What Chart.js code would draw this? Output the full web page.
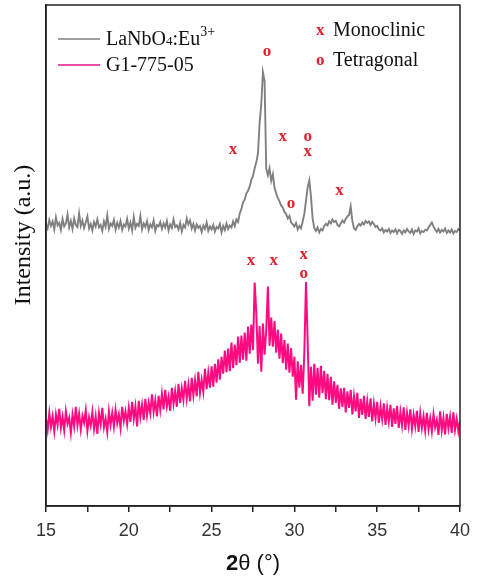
<!DOCTYPE html>
<html>
<head>
<meta charset="utf-8">
<script src="https://cdn.jsdelivr.net/npm/chart.js@4.4.1/dist/chart.umd.min.js"></script>
<style>
  body { margin: 0; background: #fff; }
  #box { width: 478px; height: 577px; }
</style>
</head>
<body>
<div id="box"><canvas id="xrd"></canvas></div>
<script>
// 2theta grid: 15.0 .. 40.0 in 0.1 steps
const thetaStart = 15;
const thetaStep = 0.1;

// LaNbO4:Eu3+ (gray, offset upward)
const lanbo = [
  56.2, 55.4, 57.1, 55.9, 56.8, 55.2, 57.6, 56.0, 56.5, 55.1,
  57.3, 55.8, 56.4, 58.2, 55.6, 56.9, 55.3, 57.4, 56.1, 55.7,
  58.4, 55.9, 57.0, 55.5, 56.6, 57.8, 55.4, 56.3, 55.0, 56.7,
  55.8, 57.2, 55.6, 56.1, 54.9, 56.8, 55.7, 58.0, 55.3, 56.4,
  55.9, 57.1, 55.2, 56.5, 55.6, 56.9, 55.1, 56.2, 55.8, 57.3,
  55.4, 56.6, 55.0, 57.7, 55.5, 56.3, 55.9, 57.9, 55.2, 56.4,
  55.7, 56.9, 55.1, 56.2, 55.6, 57.0, 54.9, 56.1, 55.8, 56.7,
  55.3, 56.4, 55.6, 56.9, 55.0, 56.2, 55.5, 57.2, 55.7, 56.0,
  55.2, 56.5, 54.8, 56.1, 55.6, 57.4, 56.2, 57.0, 55.4, 56.3,
  55.0, 56.2, 55.5, 55.9, 54.7, 56.0, 55.3, 56.6, 54.9, 55.8,
  55.2, 56.1, 54.8, 55.7, 55.4, 56.3, 54.6, 55.9, 55.1, 56.4,
  55.3, 56.0, 55.6, 56.8, 55.9, 57.2, 56.7, 58.4, 59.3, 60.6,
  61.2, 62.4, 62.9, 63.8, 65.1, 65.9, 67.4, 68.6, 70.4, 76.5,
  80.2, 86.6, 84.8, 67.3, 66.0, 67.4, 64.9, 66.2, 63.5, 62.4,
  61.5, 60.8, 60.0, 59.6, 58.7, 58.3, 57.4, 57.9, 56.6, 56.2,
  55.8, 56.5, 55.2, 55.9, 55.4, 56.8, 58.3, 60.9, 63.6, 65.0,
  61.8, 57.4, 55.5, 54.9, 55.6, 54.6, 55.3, 55.0, 55.9, 56.3,
  56.0, 56.8, 56.4, 57.2, 56.7, 56.9, 56.1, 55.8, 56.4, 57.0,
  56.6, 57.3, 57.8, 58.1, 59.8, 56.9, 55.4, 55.1, 55.8, 56.3,
  56.0, 56.6, 56.2, 56.9, 56.5, 56.8, 56.1, 56.7, 56.3, 55.7,
  55.9, 55.2, 55.0, 55.4, 54.6, 55.1, 54.8, 55.3, 54.5, 55.0,
  54.7, 55.2, 54.4, 55.1, 54.9, 54.3, 55.0, 54.6, 55.3, 54.8,
  54.5, 55.2, 54.3, 55.0, 54.8, 55.4, 54.4, 54.9, 54.7, 55.1,
  55.0, 55.6, 56.1, 56.6, 55.8, 55.2, 54.7, 55.3, 54.6, 55.1,
  54.8, 55.4, 54.5, 55.0, 54.6, 55.2, 54.4, 54.9, 54.7, 55.3,
  54.9
];

// G1-775-05 (pink)
const g1 = [
  17.5, 15.2, 18.6, 15.8, 17.9, 14.9, 18.3, 16.2, 19.4, 15.6,
  17.8, 15.1, 18.9, 16.4, 17.6, 14.6, 18.2, 15.9, 19.8, 16.1,
  18.4, 15.3, 18.0, 16.6, 19.1, 15.0, 17.7, 16.0, 18.8, 15.4,
  17.9, 14.4, 18.5, 16.3, 19.6, 15.7, 17.4, 14.8, 18.9, 16.2,
  18.6, 15.9, 19.2, 16.5, 18.3, 15.6, 19.8, 17.0, 18.9, 16.4,
  19.6, 16.8, 20.8, 17.4, 19.9, 15.9, 21.0, 17.8, 20.2, 17.2,
  21.4, 18.1, 20.6, 18.5, 22.3, 18.8, 21.1, 17.9, 22.0, 19.2,
  22.4, 19.3, 23.2, 19.9, 21.8, 19.0, 23.6, 20.4, 22.9, 19.8,
  24.4, 20.6, 23.5, 21.2, 25.0, 21.4, 24.2, 20.9, 25.6, 22.1,
  25.1, 21.9, 26.8, 22.6, 25.2, 22.8, 27.4, 23.3, 26.6, 23.6,
  27.9, 23.8, 28.4, 24.6, 29.3, 25.2, 29.8, 26.4, 31.0, 26.7,
  31.4, 26.9, 32.6, 27.5, 32.2, 28.1, 33.8, 28.6, 34.0, 29.2,
  34.6, 29.0, 35.8, 30.4, 36.2, 31.1, 44.6, 38.5, 28.4, 35.9,
  26.8, 36.4, 30.2, 35.1, 43.8, 32.0, 37.6, 31.8, 36.9, 30.6,
  35.2, 29.4, 34.4, 28.5, 33.1, 27.2, 32.4, 26.6, 31.5, 25.8,
  29.8, 21.2, 28.9, 23.6, 28.2, 22.4, 30.5, 44.7, 33.0, 19.9,
  27.8, 21.0, 28.4, 22.2, 27.6, 21.6, 28.0, 22.5, 27.0, 21.3,
  26.4, 21.1, 25.8, 20.2, 24.9, 20.6, 24.2, 19.4, 23.5, 19.8,
  23.6, 18.7, 22.9, 19.6, 23.2, 18.3, 21.9, 18.9, 22.6, 17.6,
  21.4, 18.2, 22.0, 17.4, 20.9, 17.8, 21.5, 16.9, 20.4, 17.5,
  20.8, 16.6, 19.9, 17.3, 20.5, 16.2, 19.6, 16.9, 20.2, 15.8,
  19.5, 16.4, 20.0, 15.6, 18.8, 16.1, 19.7, 15.2, 18.6, 16.0,
  19.3, 15.4, 18.2, 15.9, 19.0, 14.8, 18.5, 15.6, 17.9, 15.0,
  18.6, 15.3, 17.5, 14.9, 18.3, 15.7, 17.2, 14.2, 18.9, 15.1,
  17.6, 14.3, 18.4, 15.5, 17.8, 14.6, 18.7, 15.2, 17.4, 14.9,
  17.0
];

// phase marks: text, 2theta, intensity
const markText = ['o', 'x', 'x', 'o', 'x', 'o', 'x', 'x', 'x', 'x', 'o'];
const markTheta = [28.34, 26.3, 29.3, 30.8, 30.8, 29.8, 32.73, 27.38, 28.76, 30.56, 30.56];
const markInt = [90.6, 71.1, 73.7, 73.7, 70.7, 60.3, 62.9, 48.9, 48.9, 50.1, 46.3];

const xTicks = [15, 20, 25, 30, 35, 40];

function toPoints(valores) {
    let pts = [];
    for (let i = 0; i < valores.length; i++) {
        pts.push({ x: +(thetaStart + i * thetaStep).toFixed(2), y: valores[i] });
    }
    return pts;
}

const extras = {
    id: 'extras',
    afterDraw(chart) {
        const c = chart.ctx;
        const a = chart.chartArea;
        const sx = chart.scales.x;
        const sy = chart.scales.y;
        c.save();
        // frame
        c.strokeStyle = '#222';
        c.lineWidth = 1.5;
        c.strokeRect(a.left, a.top, a.right - a.left, a.bottom - a.top);

        // phase marks
        c.fillStyle = '#e0202e';
        c.font = 'bold 17px "Liberation Serif"';
        c.textAlign = 'center';
        c.textBaseline = 'middle';
        for (let i = 0; i < markText.length; i++) {
            c.fillText(markText[i], sx.getPixelForValue(markTheta[i]), sy.getPixelForValue(markInt[i]));
        }

        // legend, left
        c.textAlign = 'left';
        c.textBaseline = 'alphabetic';
        c.lineWidth = 1.5;
        c.strokeStyle = '#808080';
        c.beginPath(); c.moveTo(58, 39); c.lineTo(100, 39); c.stroke();
        c.strokeStyle = '#e0148a';
        c.beginPath(); c.moveTo(58, 65); c.lineTo(100, 65); c.stroke();
        c.fillStyle = '#111';
        c.font = '20px "Liberation Serif"';
        let px = 106;
        c.fillText('LaNbO', px, 45);
        px += c.measureText('LaNbO').width;
        c.font = '13px "Liberation Serif"';
        c.fillText('4', px, 45);
        px += c.measureText('4').width;
        c.font = '20px "Liberation Serif"';
        c.fillText(':Eu', px, 45);
        px += c.measureText(':Eu').width;
        c.font = '14px "Liberation Serif"';
        c.fillText('3+', px, 36);
        c.font = '20px "Liberation Serif"';
        c.fillText('G1-775-05', 106, 71);

        // legend, right
        c.fillStyle = '#e0202e';
        c.font = 'bold 17px "Liberation Serif"';
        c.fillText('x', 316, 35);
        c.fillText('o', 316, 65);
        c.fillStyle = '#111';
        c.font = '20px "Liberation Serif"';
        c.fillText('Monoclinic', 333, 36);
        c.fillText('Tetragonal', 333, 66);

        // axis titles
        c.save();
        c.translate(24, 235);
        c.rotate(-Math.PI / 2);
        c.textAlign = 'center';
        c.textBaseline = 'middle';
        c.font = '24px "Liberation Serif"';
        c.fillText('Intensity (a.u.)', 0, 0);
        c.restore();

        c.textBaseline = 'middle';
        c.font = 'bold 22px "Liberation Sans"';
        const w2 = c.measureText('2').width;
        c.font = '22px "Liberation Sans"';
        const wr = c.measureText('θ (°)').width;
        let tx = (a.left + a.right) / 2 - (w2 + wr) / 2;
        c.font = 'bold 22px "Liberation Sans"';
        c.fillText('2', tx, 564);
        c.font = '22px "Liberation Sans"';
        c.fillText('θ (°)', tx + w2, 564);
        c.restore();
    }
};

const ctx = document.getElementById('xrd').getContext('2d');
const grafico = new Chart(ctx, {
    type: 'line',
    data: {
        datasets: [{
            label: 'LaNbO4:Eu3+',
            data: toPoints(lanbo),
            borderColor: '#808080',
            borderWidth: 1.9,
            pointRadius: 0,
            tension: 0
        }, {
            label: 'G1-775-05',
            data: toPoints(g1),
            borderColor: '#ff0a80',
            borderWidth: 2,
            pointRadius: 0,
            tension: 0
        }]
    },
    options: {
        responsive: true,
        maintainAspectRatio: false,
        animation: false,
        layout: { padding: { top: 5, right: 16, left: 0, bottom: 0 } },
        plugins: { legend: { display: false }, tooltip: { enabled: false } },
        scales: {
            x: {
                type: 'linear',
                min: 15,
                max: 40,
                afterFit: function (axis) { axis.height = 71; },
                afterBuildTicks: function (axis) {
                    let t = [];
                    for (let v = 15; v <= 40; v += 2.5) t.push({ value: v });
                    axis.ticks = t;
                },
                ticks: {
                    padding: 8,
                    color: '#333',
                    font: { family: 'Liberation Sans', size: 18 },
                    callback: function (v) { return xTicks.includes(v) ? String(v) : ''; }
                },
                grid: { drawOnChartArea: false, drawTicks: true, tickLength: 6, color: '#222', lineWidth: 1.5 },
                border: { display: true, color: '#222', width: 1.5 }
            },
            y: {
                min: 0,
                max: 100,
                afterFit: function (axis) { axis.width = 46; },
                ticks: { display: false },
                grid: { display: false },
                border: { display: true, color: '#222', width: 1.5 }
            }
        }
    },
    plugins: [extras]
});
</script>
</body>
</html>
